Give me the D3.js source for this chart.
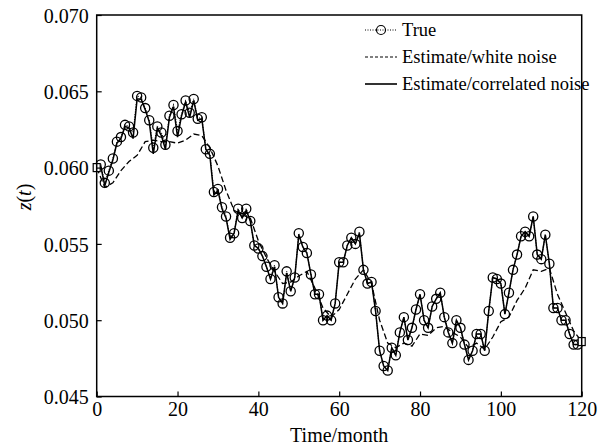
<!DOCTYPE html>
<html>
<head>
<meta charset="utf-8">
<script src="https://cdn.jsdelivr.net/npm/d3@7"></script>
<style>
  body { margin: 0; background: #fff; }
  text { font-family: "Liberation Serif", "Times New Roman", serif; fill: #000; }
</style>
</head>
<body>
<div id="chart"></div>
<script>
// months 0..120
const months = d3.range(0, 121);

const trueVals = [
  0.0600, 0.0602, 0.0590, 0.0598, 0.0606, 0.0617, 0.0620, 0.0628, 0.0627, 0.0623,
  0.0647, 0.0646, 0.0639, 0.0631, 0.0613, 0.0627, 0.0623, 0.0615, 0.0634, 0.0641,
  0.0624, 0.0635, 0.0644, 0.0636, 0.0645, 0.0632, 0.0633, 0.0612, 0.0609, 0.0584,
  0.0586, 0.0574, 0.0568, 0.0554, 0.0557, 0.0573, 0.0567, 0.0573, 0.0565, 0.0549,
  0.0547, 0.0542, 0.0535, 0.0527, 0.0536, 0.0515, 0.0511, 0.0532, 0.0519, 0.0528,
  0.0557, 0.0548, 0.0544, 0.0530, 0.0517, 0.0517, 0.0500, 0.0503, 0.0500, 0.0511,
  0.0538, 0.0538, 0.0549, 0.0554, 0.0550, 0.0558, 0.0533, 0.0524, 0.0525, 0.0506,
  0.0480, 0.0470, 0.0467, 0.0482, 0.0477, 0.0492, 0.0502, 0.0487, 0.0495, 0.0507,
  0.0517, 0.0500, 0.0495, 0.0509, 0.0514, 0.0518, 0.0502, 0.0492, 0.0485, 0.0500,
  0.0495, 0.0484, 0.0474, 0.0480, 0.0491, 0.0491, 0.0480, 0.0506, 0.0528, 0.0527,
  0.0524, 0.0504, 0.0518, 0.0533, 0.0543, 0.0555, 0.0558, 0.0555, 0.0568, 0.0543,
  0.0540, 0.0556, 0.0537, 0.0508, 0.0508, 0.0500, 0.0500, 0.0491, 0.0484, 0.0484,
  0.0486
];

const corrVals = [
  0.0600, 0.0601, 0.0588, 0.0597, 0.0605, 0.0616, 0.0619, 0.0627, 0.0626, 0.0619,
  0.0645, 0.0645, 0.0638, 0.0630, 0.0609, 0.0626, 0.0621, 0.0612, 0.0633, 0.0640,
  0.0620, 0.0634, 0.0643, 0.0633, 0.0644, 0.0631, 0.0632, 0.0612, 0.0608, 0.0582,
  0.0585, 0.0573, 0.0567, 0.0553, 0.0557, 0.0572, 0.0567, 0.0572, 0.0565, 0.0549,
  0.0547, 0.0542, 0.0535, 0.0527, 0.0535, 0.0515, 0.0511, 0.0531, 0.0519, 0.0528,
  0.0556, 0.0548, 0.0544, 0.0530, 0.0517, 0.0517, 0.0500, 0.0503, 0.0500, 0.0511,
  0.0538, 0.0538, 0.0549, 0.0554, 0.0550, 0.0557, 0.0533, 0.0524, 0.0525, 0.0506,
  0.0480, 0.0470, 0.0467, 0.0482, 0.0477, 0.0492, 0.0502, 0.0487, 0.0495, 0.0507,
  0.0517, 0.0500, 0.0495, 0.0509, 0.0514, 0.0518, 0.0502, 0.0492, 0.0485, 0.0500,
  0.0495, 0.0484, 0.0474, 0.0480, 0.0491, 0.0491, 0.0480, 0.0506, 0.0528, 0.0527,
  0.0524, 0.0504, 0.0518, 0.0533, 0.0543, 0.0555, 0.0558, 0.0555, 0.0568, 0.0543,
  0.0540, 0.0556, 0.0537, 0.0508, 0.0508, 0.0500, 0.0500, 0.0491, 0.0484, 0.0484,
  0.0486
];

// white-noise estimate, read every 2 months
const whiteMonths = d3.range(0, 121, 2);
const whiteVals = [
  0.0600, 0.0587, 0.0590, 0.0598, 0.0604, 0.0608, 0.0617, 0.0618, 0.0617, 0.0617,
  0.0616, 0.0618, 0.0622, 0.0621, 0.0613, 0.0601, 0.0585, 0.0572, 0.0569, 0.0567,
  0.0552, 0.0541, 0.0532, 0.0524, 0.0525, 0.0529, 0.0532, 0.0521, 0.0508, 0.0502,
  0.0507, 0.0517, 0.0527, 0.0533, 0.0524, 0.0500, 0.0485, 0.0482, 0.0485, 0.0483,
  0.0491, 0.0490, 0.0495, 0.0496, 0.0492, 0.0489, 0.0482, 0.0485, 0.0481, 0.0489,
  0.0499, 0.0502, 0.0513, 0.0521, 0.0533, 0.0532, 0.0534, 0.0517, 0.0505, 0.0493,
  0.0486
];

const xTicks = [0, 20, 40, 60, 80, 100, 120];
const yTicks = [0.045, 0.050, 0.055, 0.060, 0.065, 0.070];
const legendLabels = ["True", "Estimate/white noise", "Estimate/correlated noise"];

const width = 599, height = 447;
const plotLeft = 96.7, plotRight = 581.7, plotTop = 15, plotBottom = 396.5;

const svg = d3.select("#chart").append("svg")
  .attr("width", width)
  .attr("height", height);

const x = d3.scaleLinear().domain([0, 120]).range([plotLeft, plotRight]);
const y = d3.scaleLinear().domain([0.045, 0.070]).range([plotBottom, plotTop]);

const trueData = months.map((m, i) => ({ m, v: trueVals[i] }));
const corrData = months.map((m, i) => ({ m, v: corrVals[i] }));
const whiteData = whiteMonths.map((m, i) => ({ m, v: whiteVals[i] }));

const line = d3.line().x(d => x(d.m)).y(d => y(d.v));

// white noise estimate (dashed)
svg.append("path")
  .datum(whiteData)
  .attr("d", line)
  .attr("fill", "none")
  .attr("stroke", "#000")
  .attr("stroke-width", 1.3)
  .attr("stroke-dasharray", "6,3");

// correlated noise estimate (solid)
svg.append("path")
  .datum(corrData)
  .attr("d", line)
  .attr("fill", "none")
  .attr("stroke", "#000")
  .attr("stroke-width", 1.5);

// true (dotted + circles)
svg.append("path")
  .datum(trueData)
  .attr("d", line)
  .attr("fill", "none")
  .attr("stroke", "#000")
  .attr("stroke-width", 1.1)
  .attr("stroke-dasharray", "1,1.5");

svg.append("g")
  .selectAll("circle")
  .data(trueData.slice(1, -1))
  .join("circle")
  .attr("cx", d => x(d.m))
  .attr("cy", d => y(d.v))
  .attr("r", 4.6)
  .attr("fill", "none")
  .attr("stroke", "#000")
  .attr("stroke-width", 1.3);

// small square markers at both ends
svg.append("g")
  .selectAll("rect")
  .data([corrData[0], corrData[corrData.length - 1]])
  .join("rect")
  .attr("x", d => x(d.m) - 3.5)
  .attr("y", d => y(d.v) - 4)
  .attr("width", 7)
  .attr("height", 8)
  .attr("fill", "#fff")
  .attr("stroke", "#000")
  .attr("stroke-width", 1.2);

// axes with inward ticks
const xAxis = svg.append("g")
  .attr("transform", `translate(0,${plotBottom})`)
  .call(d3.axisBottom(x).tickValues(xTicks).tickSize(-5).tickSizeOuter(0).tickPadding(5));
const yAxis = svg.append("g")
  .attr("transform", `translate(${plotLeft},0)`)
  .call(d3.axisLeft(y).tickValues(yTicks).tickFormat(d3.format(".3f")).tickSize(-5).tickSizeOuter(0).tickPadding(8));

[xAxis, yAxis].forEach(g => {
  g.select(".domain").remove();
  g.selectAll("line").attr("stroke", "#000").attr("stroke-width", 1.2);
  g.selectAll("text")
    .style("font-family", '"Liberation Serif", serif')
    .style("font-size", "20px")
    .attr("fill", "#000");
});
yAxis.selectAll("text").attr("dy", "0.36em");

// frame
svg.append("rect")
  .attr("x", plotLeft)
  .attr("y", plotTop)
  .attr("width", plotRight - plotLeft)
  .attr("height", plotBottom - plotTop)
  .attr("fill", "none")
  .attr("stroke", "#000")
  .attr("stroke-width", 1.5);

// axis labels
svg.append("text")
  .attr("x", (plotLeft + plotRight) / 2)
  .attr("y", 442)
  .attr("text-anchor", "middle")
  .style("font-size", "20px")
  .text("Time/month");

const yl = svg.append("text")
  .attr("transform", "translate(31,197) rotate(-90)")
  .attr("text-anchor", "middle")
  .style("font-size", "20px");
yl.append("tspan").style("font-style", "italic").text("z");
yl.append("tspan").text("(");
yl.append("tspan").style("font-style", "italic").text("t");
yl.append("tspan").text(")");

// legend
const legY = [30, 57, 84];
const lg = svg.append("g").selectAll("g")
  .data(legendLabels)
  .join("g")
  .attr("transform", (d, i) => `translate(365,${legY[i]})`);

lg.append("line")
  .attr("x1", 0).attr("x2", 32)
  .attr("stroke", "#000")
  .attr("stroke-width", (d, i) => i === 0 ? 1 : (i === 1 ? 1.2 : 1.6))
  .attr("stroke-dasharray", (d, i) => i === 0 ? "1,1.5" : (i === 1 ? "3,2" : null));

lg.filter((d, i) => i === 0).append("circle")
  .attr("cx", 16).attr("r", 4.5)
  .attr("fill", "none").attr("stroke", "#000").attr("stroke-width", 1.2);

lg.append("text")
  .attr("x", 37)
  .attr("dy", "0.35em")
  .style("font-size", "18.5px")
  .text(d => d);
</script>
</body>
</html>
